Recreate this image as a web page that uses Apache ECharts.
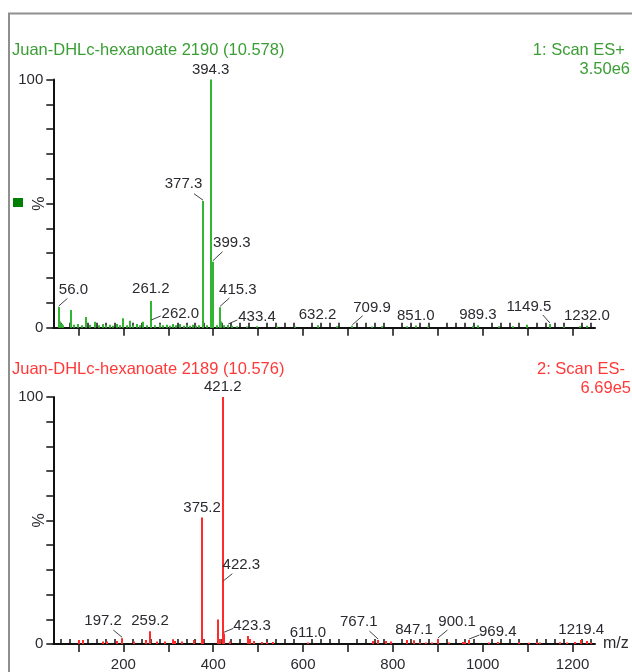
<!DOCTYPE html>
<html>
<head>
<meta charset="utf-8">
<script src="https://cdn.jsdelivr.net/npm/echarts@6/dist/echarts.min.js"></script>
<style>
html,body{margin:0;padding:0;background:#fff;}
#chart{width:632px;height:672px;}
</style>
</head>
<body>
<div id="chart"></div>
<script>
// ---------- DATA ----------
var posTitle = 'Juan-DHLc-hexanoate 2190 (10.578)';
var posScan = '1: Scan ES+';
var posTic = '3.50e6';
var negTitle = 'Juan-DHLc-hexanoate 2189 (10.576)';
var negScan = '2: Scan ES-';
var negTic = '6.69e5';

// ES+ spectrum (m/z, relative intensity %)
var posMz = [
  56.0, 59.5, 62.5, 66.0, 83.3, 90.0, 100.0, 108.0, 116.7, 125.0,
  136.8, 146.0, 155.0, 162.0, 170.0, 178.0, 185.0, 192.0, 199.8, 207.0,
  214.7, 222.0, 229.6, 237.0, 244.3, 252.0, 261.2, 262.0, 270.0, 281.5,
  289.0, 296.4, 304.0, 311.0, 318.0, 326.0, 334.0, 341.0, 349.0, 355.7,
  362.0, 368.4, 377.3, 378.3, 387.0, 394.3, 395.3, 399.3, 400.3, 408.0,
  415.3, 417.4, 424.0, 433.4, 441.0, 452.0, 475.0, 498.0, 541.0, 583.0,
  632.2, 675.0, 709.9, 753.0, 775.0, 831.0, 851.0, 879.0, 979.0, 989.3,
  1037.0, 1068.0, 1098.0, 1149.5, 1180.0, 1217.0, 1232.0
];
var posInt = [
  8.3, 2.5, 1.5, 1.0, 7.1, 1.2, 1.5, 1.0, 4.3, 1.2,
  2.4, 1.0, 1.5, 1.0, 1.2, 0.8, 1.5, 1.0, 3.8, 1.0,
  2.8, 1.0, 1.5, 1.0, 2.4, 1.0, 10.8, 2.7, 1.0, 1.5,
  1.0, 1.2, 0.8, 1.5, 1.0, 1.5, 0.8, 1.0, 0.8, 1.2,
  0.8, 1.0, 51.0, 3.8, 1.0, 100, 22.0, 26.6, 3.5, 1.0,
  8.2, 2.5, 1.0, 1.1, 0.8, 0.6, 0.5, 0.6, 0.5, 0.5,
  1.0, 0.6, 0.8, 0.5, 0.6, 0.6, 0.9, 0.5, 0.7, 1.0,
  0.6, 0.6, 1.2, 1.5, 0.5, 0.6, 0.8
];
var posLabelMz = [394.3, 377.3, 399.3, 56.0, 261.2, 262.0, 415.3, 433.4, 632.2, 709.9, 851.0, 989.3, 1149.5, 1232.0];

// ES- spectrum (m/z, relative intensity %)
var negMz = [
  101.0, 110.8, 153.9, 162.8, 185.0, 197.2, 224.3, 249.6, 259.2, 274.0,
  292.6, 311.0, 315.0, 329.8, 357.0, 375.2, 378.0, 411.4, 415.0, 421.2,
  422.3, 423.3, 437.4, 478.2, 482.0, 491.0, 508.0, 519.0, 534.0, 611.0,
  755.0, 767.1, 785.0, 795.0, 832.0, 847.1, 861.0, 874.0, 887.0, 900.1,
  926.0, 957.0, 961.0, 969.4, 1013.0, 1035.0, 1080.0, 1102.0, 1120.0, 1128.0,
  1172.0, 1188.0, 1206.0, 1219.4, 1232.0, 1240.0
];
var negInt = [
  1.6, 1.6, 1.0, 1.0, 1.2, 2.3, 1.0, 1.6, 5.2, 1.0,
  1.0, 1.9, 1.2, 1.0, 1.6, 51.2, 2.0, 9.9, 2.0, 100,
  25.1, 4.3, 1.0, 3.2, 2.0, 1.2, 0.8, 0.8, 0.8, 0.6,
  1.2, 1.6, 1.2, 1.0, 1.6, 1.5, 0.6, 0.6, 0.6, 2.0,
  0.6, 0.8, 0.8, 1.6, 0.6, 0.8, 0.7, 0.5, 0.7, 0.6,
  0.7, 0.6, 0.8, 1.6, 1.2, 0.6
];
var negLabelMz = [421.2, 375.2, 422.3, 423.3, 197.2, 259.2, 611.0, 767.1, 847.1, 900.1, 969.4, 1219.4];

// axis ticks
var xMin = 44, xMax = 1250;
var xMajorTicks = [100, 200, 300, 400, 500, 600, 700, 800, 900, 1000, 1100, 1200];
var xLabelTicks = [200, 400, 600, 800, 1000, 1200];
var xMinorTicks = [];
for (var t = 60; t <= 1240; t += 20) { if (t % 100 !== 0) xMinorTicks.push(t); }

// ---------- LAYOUT / STYLE (label placement: [labelDx, labelDy, leaderEndDx, leaderEndDy] in px, null = centred above) ----------
var posLabelLayout = [
  null, [-19.5, -17.7, -9, -7.4], [19, -18.7, 9.7, -10], [14.7, -17.7, 8.7, -8.7], [0, -12, 0, 0],
  [29.1, -7, 9.5, -5], [17.8, -17.3, 9.3, -9.3], [28.8, -8, 9.1, -5], null, [19.6, -18.2, 10.3, -10],
  null, null, [-21, -17, -7, -9], null
];
var negLabelLayout = [
  null, null, [18.1, -17.3, 9.1, -8.3], [28.3, -7.5, 9.6, -5], [-19, -17, -8.8, -8.3],
  null, null, [-19.3, -18.4, -8.7, -9], null, [19.3, -17, 9.6, -9], [28.8, -8, 10.4, -5], null
];

var FONT = '"Liberation Sans", Arial, sans-serif';
var greenTitle = '#3a9e35';
var greenBar = '#33b533';
var redTitle = '#ff3838';
var redBar = '#ff2a2a';
var axisColor = '#111';
var textColor = '#2a2a30';

function peakSeries(mzArr, intArr, gi, color) {
  return {
    type: 'custom', xAxisIndex: gi * 2, yAxisIndex: gi, silent: true, clip: false,
    data: mzArr.map(function (m, i) { return [m, intArr[i]]; }),
    encode: { x: 0, y: 1 },
    renderItem: function (params, api) {
      var base = api.coord([api.value(0), 0]);
      var top = api.coord([api.value(0), api.value(1)]);
      var x = Math.round(base[0]);
      return { type: 'line', shape: { x1: x, y1: base[1], x2: x, y2: top[1] },
        style: { stroke: color, lineWidth: 2 } };
    }
  };
}

function labelSeries(labelMz, mzArr, intArr, layout, gi) {
  return {
    type: 'custom', xAxisIndex: gi * 2, yAxisIndex: gi, silent: true, clip: false, z: 5,
    data: labelMz.map(function (m, i) { return [m, intArr[mzArr.indexOf(m)], i]; }),
    encode: { x: 0, y: 1 },
    renderItem: function (params, api) {
      var mz = api.value(0);
      var p = api.coord([mz, api.value(1)]);
      var l = layout[api.value(2)];
      var children = [];
      var tx, ty;
      if (l) {
        tx = p[0] + l[0]; ty = p[1] + l[1];
        if (l[2] !== 0 || l[3] !== 0) {
          children.push({ type: 'line', shape: { x1: p[0], y1: p[1] - 1, x2: p[0] + l[2], y2: p[1] + l[3] },
            style: { stroke: '#444', lineWidth: 1 } });
        }
      } else {
        tx = p[0]; ty = p[1] - 10;
      }
      children.push({ type: 'text', x: tx, y: ty,
        style: { text: mz.toFixed(1), align: 'center', verticalAlign: 'middle',
          font: '15px ' + FONT, fill: textColor } });
      return { type: 'group', children: children };
    }
  };
}

function xAxes(gi, showLabels) {
  return [{
    type: 'value', gridIndex: gi, min: xMin, max: xMax, scale: true,
    axisLine: { show: true, onZero: false, lineStyle: { color: axisColor, width: 2 } },
    axisTick: { show: true, customValues: xMajorTicks, length: 8, lineStyle: { color: axisColor, width: 1.5 } },
    axisLabel: { show: showLabels, customValues: xLabelTicks, margin: 13, fontSize: 15, color: textColor, fontFamily: FONT,
      formatter: function (v) { return String(v); } },
    splitLine: { show: false },
    name: showLabels ? 'm/z' : '', nameLocation: 'end', nameGap: 8, nameMoveOverlap: false,
    nameTextStyle: { fontSize: 16, color: textColor, fontFamily: FONT, verticalAlign: 'middle' }
  }, {
    type: 'value', gridIndex: gi, min: xMin, max: xMax, scale: true,
    axisLine: { show: false },
    axisTick: { show: true, customValues: xMinorTicks, length: 5, lineStyle: { color: axisColor, width: 1.5 } },
    axisLabel: { show: false },
    splitLine: { show: false }
  }];
}

function yAxis(gi) {
  return {
    type: 'value', gridIndex: gi, min: 0, max: 100, interval: 10,
    axisLine: { show: true, lineStyle: { color: axisColor, width: 2 } },
    axisTick: { show: true, length: 7, lineStyle: { color: axisColor, width: 1.5 } },
    axisLabel: { margin: 10, fontSize: 15, color: textColor, fontFamily: FONT,
      formatter: function (v) { return (v === 0 || v === 100) ? String(v) : ''; } },
    splitLine: { show: false },
    name: '%', nameLocation: 'middle', nameRotate: 90, nameGap: 6, nameMoveOverlap: false,
    nameTextStyle: { fontSize: 16, color: textColor, fontFamily: FONT }
  };
}

var chart = echarts.init(document.getElementById('chart'), null, { renderer: 'canvas' });
chart.setOption({
  animation: false,
  backgroundColor: '#fff',
  title: [
    { text: posTitle, left: 12, top: 42, padding: 0, textStyle: { fontSize: 16.5, fontWeight: 'normal', color: greenTitle, fontFamily: FONT, lineHeight: 17 } },
    { text: posScan, right: 7, top: 42, padding: 0, textStyle: { fontSize: 16.5, fontWeight: 'normal', color: greenTitle, fontFamily: FONT, lineHeight: 17 } },
    { text: posTic, right: 2, top: 61, padding: 0, textStyle: { fontSize: 16.5, fontWeight: 'normal', color: greenTitle, fontFamily: FONT, lineHeight: 17 } },
    { text: negTitle, left: 12, top: 361, padding: 0, textStyle: { fontSize: 16.5, fontWeight: 'normal', color: redTitle, fontFamily: FONT, lineHeight: 17 } },
    { text: negScan, right: 7, top: 361, padding: 0, textStyle: { fontSize: 16.5, fontWeight: 'normal', color: redTitle, fontFamily: FONT, lineHeight: 17 } },
    { text: negTic, right: 1, top: 380, padding: 0, textStyle: { fontSize: 16.5, fontWeight: 'normal', color: redTitle, fontFamily: FONT, lineHeight: 17 } }
  ],
  grid: [
    { left: 53.3, right: 37, top: 79.5, height: 248.2 },
    { left: 53.3, right: 37, top: 397, height: 248.7 }
  ],
  xAxis: xAxes(0, false).concat(xAxes(1, true)),
  yAxis: [yAxis(0), yAxis(1)],
  series: [
    peakSeries(posMz, posInt, 0, greenBar),
    labelSeries(posLabelMz, posMz, posInt, posLabelLayout, 0),
    peakSeries(negMz, negInt, 1, redBar),
    labelSeries(negLabelMz, negMz, negInt, negLabelLayout, 1)
  ],
  graphic: [
    { type: 'polyline', shape: { points: [[9, 672], [9, 13.5], [632, 13.5]] }, style: { stroke: '#8f8f8f', lineWidth: 2, fill: null } },
    { type: 'rect', shape: { x: 13, y: 198, width: 10, height: 9 }, style: { fill: '#008000' } }
  ]
});
</script>
</body>
</html>
